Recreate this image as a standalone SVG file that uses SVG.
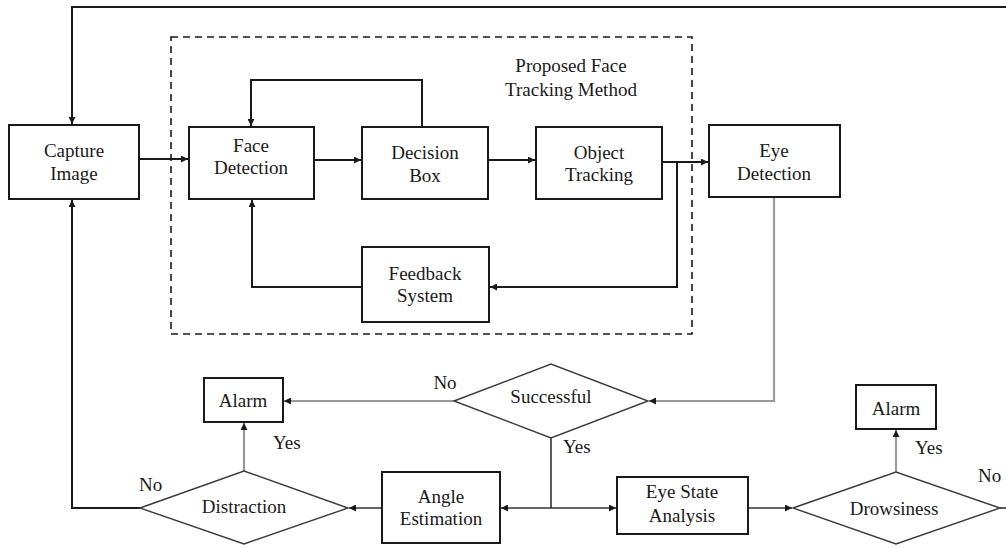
<svg xmlns="http://www.w3.org/2000/svg" width="1006" height="548" viewBox="0 0 1006 548">
  <style>
    text { font-family: "Liberation Serif", "Times New Roman", serif; font-size: 19px; fill: #1a1a1a; text-anchor: middle; }
    .lbl { text-anchor: start; }
    .box { fill: #ffffff; stroke: #1a1a1a; stroke-width: 2; }
    .dia { fill: #ffffff; stroke: #3a3a3a; stroke-width: 1.4; }
    .frame { fill: none; stroke: #1a1a1a; stroke-width: 1.6; stroke-dasharray: 7 5; }
    .ln { fill: none; stroke: #1a1a1a; stroke-width: 2; }
    .thin { fill: none; stroke: #333333; stroke-width: 1.6; }
    .grey { fill: none; stroke: #9a9a9a; stroke-width: 2.2; }
  </style>
  <defs>
    <marker id="ah" viewBox="0 0 10 10" refX="10" refY="5" markerWidth="9" markerHeight="7" markerUnits="userSpaceOnUse" orient="auto">
      <path d="M0,0 L10,5 L0,10 z" fill="#1a1a1a"/>
    </marker>
  </defs>
  <rect width="1006" height="548" fill="#ffffff"/>

  <!-- dashed frame around the proposed tracking method -->
  <g id="tracking-frame">
    <rect class="frame" x="171" y="37" width="521" height="297"/>
    <text x="571" y="72">Proposed Face</text>
    <text x="571" y="96">Tracking Method</text>
  </g>

  <g id="connectors">
    <!-- top return line to Capture Image -->
    <path class="ln" d="M1006,7 H72 V124" marker-end="url(#ah)"/>
    <!-- Distraction "No" back to Capture Image -->
    <path class="ln" d="M140,508 H72 V200" marker-end="url(#ah)"/>
    <path class="ln" d="M139,159 H188" marker-end="url(#ah)"/>
    <path class="ln" d="M314,160 H361" marker-end="url(#ah)"/>
    <path class="ln" d="M422,127 V80 H251 V126" marker-end="url(#ah)"/>
    <path class="ln" d="M488,160 H535" marker-end="url(#ah)"/>
    <path class="ln" d="M662,162 H708" marker-end="url(#ah)"/>
    <path class="ln" d="M677,162 V287 H490" marker-end="url(#ah)"/>
    <path class="ln" d="M362,287 H252 V200" marker-end="url(#ah)"/>
    <!-- lower flow -->
    <path class="grey" d="M774,197 V401 H649" marker-end="url(#ah)"/>
    <path class="grey" d="M454,401 H284" marker-end="url(#ah)"/>
    <path class="thin" d="M551,438 V508"/>
    <path class="thin" d="M551,508 H501" marker-end="url(#ah)"/>
    <path class="thin" d="M551,508 H616" marker-end="url(#ah)"/>
    <path class="thin" d="M382,508 H349" marker-end="url(#ah)"/>
    <path class="grey" d="M244,471 V423" marker-end="url(#ah)"/>
    <path class="thin" d="M748,508 H792" marker-end="url(#ah)"/>
    <path class="grey" d="M896,472 V430" marker-end="url(#ah)"/>
    <path class="thin" d="M1000,508 H1006"/>
  </g>

  <g id="capture-image">
    <rect class="box" x="9" y="125" width="130" height="74"/>
    <text x="74" y="157">Capture</text>
    <text x="74" y="180">Image</text>
  </g>
  <g id="face-detection">
    <rect class="box" x="189" y="127" width="125" height="72"/>
    <text x="251" y="152">Face</text>
    <text x="251" y="174">Detection</text>
  </g>
  <g id="decision-box">
    <rect class="box" x="362" y="127" width="126" height="72"/>
    <text x="425" y="159">Decision</text>
    <text x="425" y="182">Box</text>
  </g>
  <g id="object-tracking">
    <rect class="box" x="536" y="127" width="126" height="72"/>
    <text x="599" y="159">Object</text>
    <text x="599" y="181">Tracking</text>
  </g>
  <g id="eye-detection">
    <rect class="box" x="709" y="125" width="131" height="72"/>
    <text x="774" y="157">Eye</text>
    <text x="774" y="180">Detection</text>
  </g>
  <g id="feedback-system">
    <rect class="box" x="362" y="247" width="127" height="75"/>
    <text x="425" y="280">Feedback</text>
    <text x="425" y="302">System</text>
  </g>
  <g id="successful">
    <polygon class="dia" points="454,401 551,364 648,401 551,438"/>
    <text x="551" y="403">Successful</text>
    <text x="445" y="389">No</text>
    <text class="lbl" x="563" y="453">Yes</text>
  </g>
  <g id="alarm-left">
    <rect class="box" x="204" y="378" width="79" height="44"/>
    <text x="243" y="407">Alarm</text>
  </g>
  <g id="distraction">
    <polygon class="dia" points="140,508 244,471 348,508 244,544"/>
    <text x="244" y="513">Distraction</text>
    <text class="lbl" x="273" y="449">Yes</text>
    <text class="lbl" x="139" y="491">No</text>
  </g>
  <g id="angle-estimation">
    <rect class="box" x="382" y="472" width="118" height="71"/>
    <text x="441" y="503">Angle</text>
    <text x="441" y="525">Estimation</text>
  </g>
  <g id="eye-state-analysis">
    <rect class="box" x="617" y="477" width="131" height="57"/>
    <text x="682" y="498">Eye State</text>
    <text x="682" y="522">Analysis</text>
  </g>
  <g id="drowsiness">
    <polygon class="dia" points="793,508 896,472 1000,508 896,544"/>
    <text x="894" y="515">Drowsiness</text>
    <text class="lbl" x="915" y="454">Yes</text>
    <text class="lbl" x="978" y="482">No</text>
  </g>
  <g id="alarm-right">
    <rect class="box" x="856" y="385" width="80" height="44"/>
    <text x="896" y="415">Alarm</text>
  </g>
</svg>
